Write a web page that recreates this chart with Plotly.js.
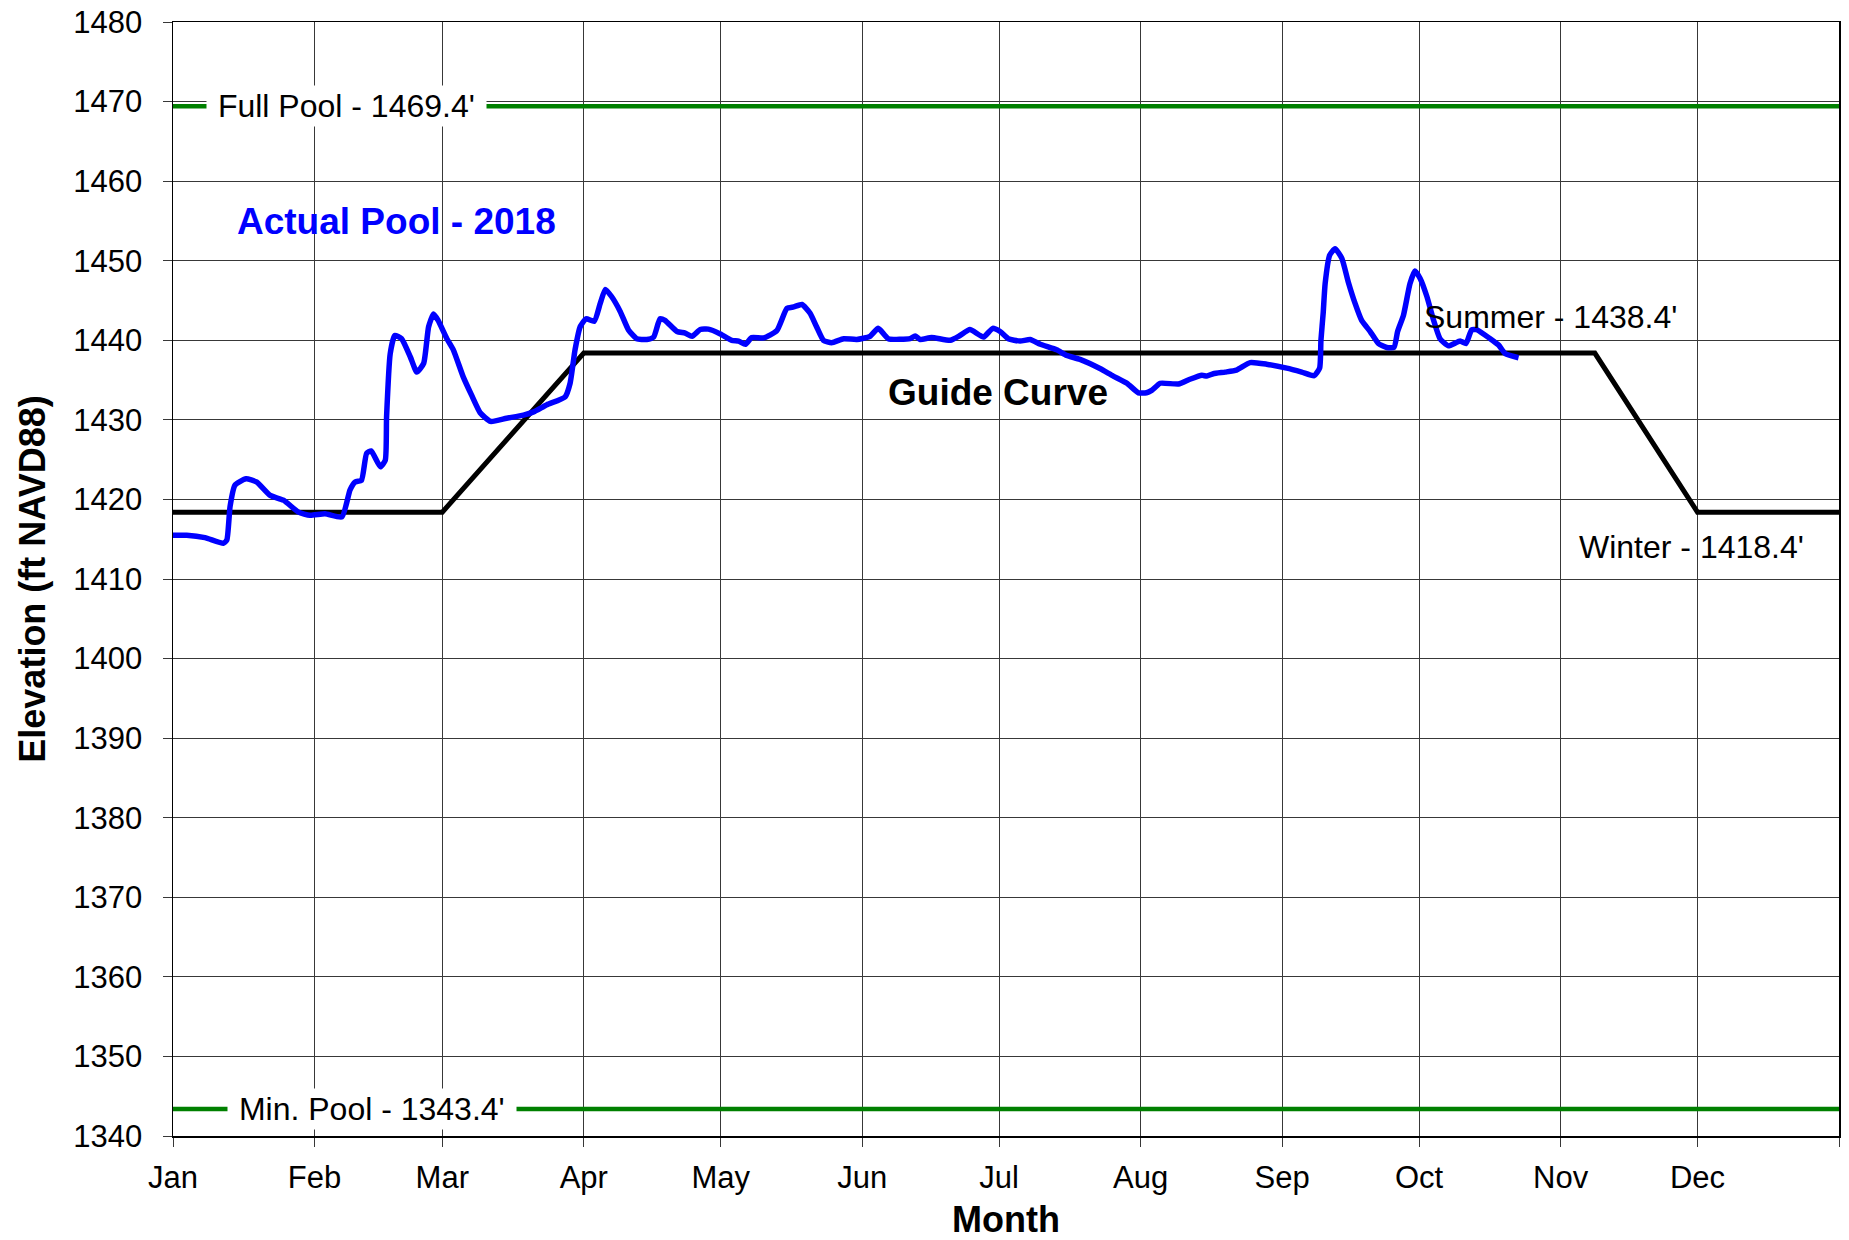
<!DOCTYPE html>
<html>
<head>
<meta charset="utf-8">
<script src="https://cdn.plot.ly/plotly-3.0.1.min.js"></script>
<style>html,body{margin:0;padding:0;background:#fff;}#chart{width:1849px;height:1240px;}</style>
</head>
<body>
<div id="chart"></div>
<script>
// ---- Data ----
const actualDates = [
  '2018-01-01','2018-01-04','2018-01-08','2018-01-12','2018-01-12 19:00','2018-01-13 12:00','2018-01-14 14:00',
  '2018-01-17','2018-01-19 07:00','2018-01-22 07:00','2018-01-25 05:00','2018-01-28 12:00','2018-01-31',
  '2018-02-03 07:00','2018-02-07','2018-02-08 19:00','2018-02-09 22:00','2018-02-11 07:00','2018-02-12 10:00',
  '2018-02-13 10:00','2018-02-15 10:00','2018-02-16 12:00','2018-02-16 19:00','2018-02-17 14:00','2018-02-18 14:00',
  '2018-02-20 02:00','2018-02-22','2018-02-23 10:00','2018-02-24 22:00','2018-02-26','2018-02-27 02:00',
  '2018-02-28 02:00','2018-03-02','2018-03-03 10:00','2018-03-05 14:00','2018-03-07 10:00','2018-03-09 07:00',
  '2018-03-11 14:00','2018-03-15 02:00','2018-03-18 19:00','2018-03-21','2018-03-23 22:00','2018-03-27 22:00',
  '2018-03-29','2018-03-30 02:00','2018-03-31 05:00','2018-04-01 12:00','2018-04-03 07:00','2018-04-04 14:00',
  '2018-04-05 17:00','2018-04-07 02:00','2018-04-09','2018-04-10 19:00','2018-04-12 14:00','2018-04-14 19:00',
  '2018-04-16 07:00','2018-04-17 17:00','2018-04-18 19:00','2018-04-21 10:00','2018-04-23 05:00','2018-04-24 17:00',
  '2018-04-26 12:00','2018-04-28 07:00','2018-04-30 22:00','2018-05-03 10:00','2018-05-04 22:00','2018-05-06 10:00',
  '2018-05-07 19:00','2018-05-10 10:00','2018-05-13 07:00','2018-05-15 12:00','2018-05-17','2018-05-18 19:00',
  '2018-05-20 14:00','2018-05-22','2018-05-23 12:00','2018-05-25 07:00','2018-05-27 22:00','2018-05-30 19:00',
  '2018-06-02 17:00','2018-06-04 12:00','2018-06-06 17:00','2018-06-11 12:00','2018-06-12 14:00','2018-06-13 17:00',
  '2018-06-16 05:00','2018-06-20 07:00','2018-06-22 10:00','2018-06-24 14:00','2018-06-27 14:00','2018-06-29 14:00',
  '2018-07-01 05:00','2018-07-03','2018-07-05 14:00','2018-07-07 19:00','2018-07-10','2018-07-13 14:00',
  '2018-07-15 19:00','2018-07-18 17:00','2018-07-23 02:00','2018-07-26','2018-07-29','2018-07-31 12:00',
  '2018-08-02 07:00','2018-08-03 10:00','2018-08-05 07:00','2018-08-09 07:00','2018-08-11 19:00','2018-08-14 10:00',
  '2018-08-15 12:00','2018-08-16 22:00','2018-08-19 12:00','2018-08-22','2018-08-25','2018-08-28 14:00',
  '2018-09-02','2018-09-05 07:00','2018-09-08','2018-09-09 05:00','2018-09-09 12:00','2018-09-10',
  '2018-09-10 10:00','2018-09-11 10:00','2018-09-12 14:00','2018-09-14 02:00','2018-09-15 12:00','2018-09-17',
  '2018-09-18 10:00','2018-09-20 07:00','2018-09-22 02:00','2018-09-23 22:00','2018-09-25 12:00','2018-09-26 07:00',
  '2018-09-27 14:00','2018-09-29','2018-09-30 02:00','2018-10-01 05:00','2018-10-02 17:00','2018-10-04 02:00',
  '2018-10-05 14:00','2018-10-07 10:00','2018-10-10','2018-10-11 07:00','2018-10-12 12:00','2018-10-13 14:00',
  '2018-10-16 14:00','2018-10-18 10:00','2018-10-19 22:00','2018-10-22 19:00'
];
const actualElev = [
  1415.5,1415.5,1415.2,1414.5,1414.9,1419.1,1421.8,
  1422.6,1422.2,1420.5,1419.9,1418.4,1418.0,
  1418.2,1417.8,1421.2,1422.2,1422.4,1425.8,
  1426.1,1424.1,1424.9,1430.4,1438.3,1440.6,
  1440.2,1437.9,1436.0,1437.1,1441.7,1443.3,
  1442.5,1440.2,1438.8,1435.4,1433.1,1430.9,
  1429.8,1430.2,1430.6,1431.0,1431.9,1432.9,
  1434.6,1438.8,1441.7,1442.7,1442.4,1444.6,
  1446.4,1445.5,1443.6,1441.3,1440.2,1440.1,
  1440.4,1442.7,1442.5,1441.1,1440.9,1440.5,
  1441.35,1441.4,1440.8,1440.0,1439.9,1439.5,
  1440.35,1440.3,1441.2,1444.0,1444.2,1444.5,
  1443.4,1441.7,1440.0,1439.7,1440.2,1440.1,
  1440.5,1441.5,1440.2,1440.2,1440.55,1440.1,
  1440.35,1440.0,1440.6,1441.35,1440.4,1441.5,
  1441.1,1440.2,1439.9,1440.1,1439.5,1438.8,
  1438.1,1437.6,1436.45,1435.5,1434.6,1433.4,
  1433.4,1433.7,1434.6,1434.5,1435.1,1435.6,
  1435.5,1435.8,1436.0,1436.25,1437.2,1437.0,
  1436.5,1436.0,1435.55,1436.5,1440.0,1443.5,
  1447.1,1450.7,1451.5,1450.3,1447.3,1444.6,
  1442.5,1441.1,1439.6,1439.1,1439.1,1441.1,
  1443.15,1447.1,1448.7,1447.8,1445.5,1442.7,
  1440.2,1439.3,1439.9,1439.6,1441.3,1441.35,
  1440.2,1439.4,1438.3,1437.8
];
const guideDates = ['2018-01-01','2018-03-01','2018-04-01','2018-11-08 12:00','2018-12-01','2018-12-31 23:59'];
const guideElev = [1418.4,1418.4,1438.4,1438.4,1418.4,1418.4];
const poolDates = ['2018-01-01','2018-12-31 23:59'];
const fullPoolElev = [1469.4,1469.4];
const minPoolElev = [1343.4,1343.4];

const FONT = 'Arial, "Liberation Sans", sans-serif';
const NB = '\u00a0';

const traces = [
  {x: poolDates, y: fullPoolElev, mode:'lines', line:{color:'#008000', width:4.5}, hoverinfo:'skip'},
  {x: poolDates, y: minPoolElev, mode:'lines', line:{color:'#008000', width:4.5}, hoverinfo:'skip'},
  {x: guideDates, y: guideElev, mode:'lines', line:{color:'#000000', width:5}},
  {x: actualDates, y: actualElev, mode:'lines', line:{color:'#0000FF', width:5.5, shape:'spline', smoothing:0.5}}
];

const axisCommon = {
  showgrid:true, gridcolor:'#383838', gridwidth:1,
  ticks:'outside', ticklen:9, tickcolor:'#383838', tickwidth:1,
  showline:true, linecolor:'#000000', linewidth:1.5, mirror:true,
  zeroline:false,
  tickfont:{family:FONT, size:31, color:'#000'}
};

const layout = {
  width:1849, height:1240,
  margin:{l:173, r:10, t:22, b:104},
  paper_bgcolor:'#ffffff', plot_bgcolor:'#ffffff',
  showlegend:false,
  font:{family:FONT, color:'#000'},
  xaxis: Object.assign({}, axisCommon, {
    type:'date',
    range:['2018-01-01','2018-12-31 23:59'],
    tick0:'2018-01-01', dtick:'M1', tickformat:'%b',
    ticklabelstandoff:4,
    title:{text:'<b>Month</b>', font:{family:FONT, size:36, color:'#000'}, standoff:13}
  }),
  yaxis: Object.assign({}, axisCommon, {
    range:[1340,1480], tick0:1340, dtick:10,
    ticklabelstandoff:14,
    title:{text:'<b>Elevation (ft NAVD88)</b>', font:{family:FONT, size:36, color:'#000'}, standoff:16}
  }),
  annotations:[
    {x:'2018-02-07 22:00', y:1469.4, xref:'x', yref:'y', text:NB+"Full Pool - 1469.4'"+NB, showarrow:false,
     font:{family:FONT, size:32, color:'#000'}, bgcolor:'#ffffff', borderpad:2, xanchor:'center', yanchor:'middle'},
    {x:'2018-02-13 14:00', y:1343.4, xref:'x', yref:'y', text:NB+"Min. Pool - 1343.4'"+NB, showarrow:false,
     font:{family:FONT, size:32, color:'#000'}, bgcolor:'#ffffff', borderpad:2, xanchor:'center', yanchor:'middle'},
    {x:'2018-02-18 22:00', y:1454.9, xref:'x', yref:'y', text:'<b>Actual Pool - 2018</b>', showarrow:false,
     font:{family:FONT, size:37, color:'#0000FF'}, xanchor:'center', yanchor:'middle'},
    {x:'2018-06-30 19:00', y:1433.5, xref:'x', yref:'y', text:'<b>Guide Curve</b>', showarrow:false,
     font:{family:FONT, size:37, color:'#000'}, xanchor:'center', yanchor:'middle'},
    {x:'2018-10-29 19:00', y:1442.9, xref:'x', yref:'y', text:"Summer - 1438.4'", showarrow:false,
     font:{family:FONT, size:32, color:'#000'}, xanchor:'center', yanchor:'middle'},
    {x:'2018-11-29 14:00', y:1414.0, xref:'x', yref:'y', text:"Winter - 1418.4'", showarrow:false,
     font:{family:FONT, size:32, color:'#000'}, xanchor:'center', yanchor:'middle'}
  ]
};

Plotly.newPlot('chart', traces, layout, {displayModeBar:false, staticPlot:true});
</script>
</body>
</html>
